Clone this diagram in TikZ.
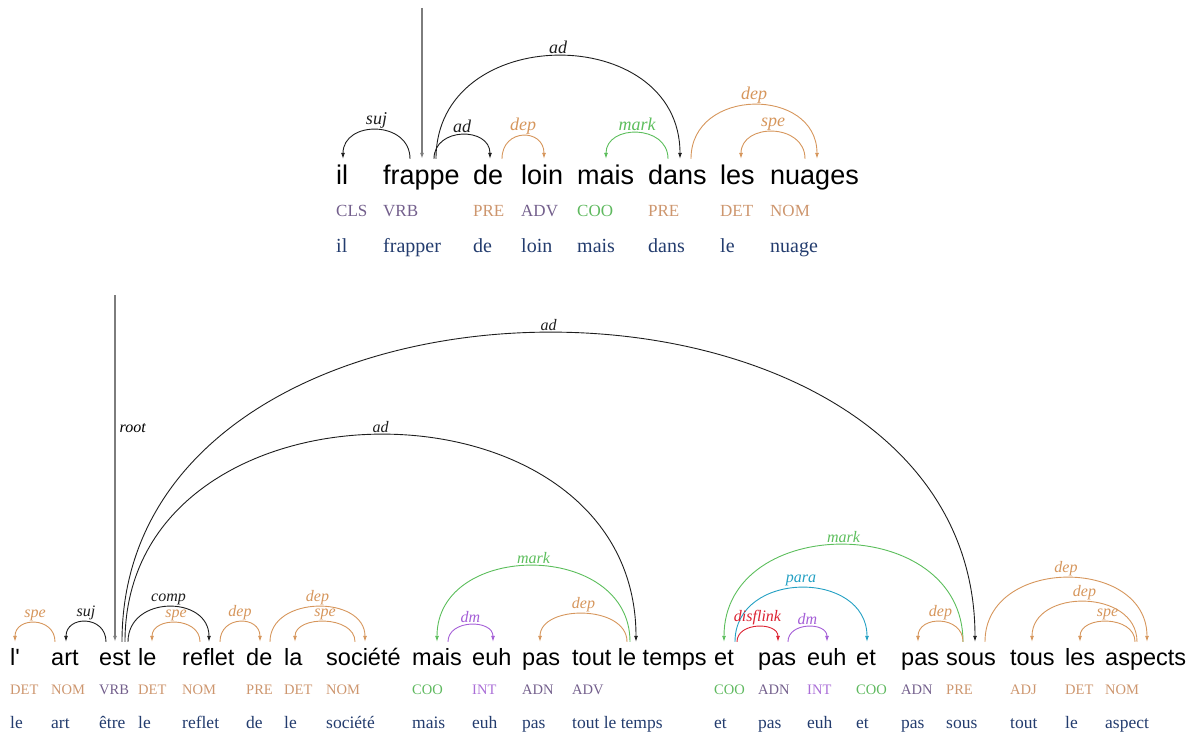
\documentclass[tikz,border=0pt]{standalone}
\usepackage{fontspec}
\setmainfont{Liberation Serif}
\setsansfont{Liberation Sans}
\usepackage{xcolor}
\usepackage{tikz}
\usetikzlibrary{arrows.meta}
\definecolor{arcblk}{RGB}{30,30,30}
\definecolor{deporg}{RGB}{214,150,92}
\definecolor{mrkgrn}{RGB}{92,190,92}
\definecolor{dmpur}{RGB}{165,95,215}
\definecolor{parcyan}{RGB}{35,160,195}
\definecolor{lnkred}{RGB}{220,35,50}
\definecolor{rootgr}{RGB}{125,125,125}
\definecolor{tagorg}{RGB}{205,150,110}
\definecolor{taggrn}{RGB}{95,185,95}
\definecolor{tagpur}{RGB}{170,110,215}
\definecolor{taggry}{RGB}{115,95,140}
\definecolor{lemblu}{RGB}{35,60,110}
\tikzset{
  wtop/.style={anchor=base west, inner sep=0pt, text height=26pt, text depth=6pt,
    font=\sffamily\fontsize{27}{30}\selectfont},
  wbot/.style={anchor=base west, inner sep=0pt, text height=23pt, text depth=5pt,
    font=\sffamily\fontsize{23.5}{26}\selectfont},
  tagtop/.style={anchor=base west, inner sep=0pt, font=\fontsize{17}{20}\selectfont},
  tagbot/.style={anchor=base west, inner sep=0pt, font=\fontsize{14.5}{17}\selectfont},
  lemtop/.style={anchor=base west, inner sep=0pt, text=lemblu, font=\fontsize{20}{24}\selectfont},
  lembot/.style={anchor=base west, inner sep=0pt, text=lemblu, font=\fontsize{17.5}{21}\selectfont},
  deparc/.style={-{Latex[length=6pt,width=4pt]}, line width=0.9pt},
  toplab/.style={anchor=south, inner sep=1.5pt, font=\itshape\fontsize{18}{20}\selectfont},
  botlab/.style={anchor=south, inner sep=1.5pt, font=\itshape\fontsize{16}{18}\selectfont},
  rootln/.style={draw=rootgr, line width=1.6pt, -{Latex[length=6pt,width=4pt]}}
}

\begin{document}
\begin{tikzpicture}[x=1pt,y=1pt]
  \useasboundingbox (0,0) rectangle (1195,-733);
  \foreach \x/\w/\t/\c/\l [count=\i] in {336/il/CLS/taggry/il, 383/frappe/VRB/taggry/frapper,
      473/de/PRE/tagorg/de, 521/loin/ADV/taggry/loin, 577/mais/COO/taggrn/mais,
      648/dans/PRE/tagorg/dans, 720/les/DET/tagorg/le, 770/nuages/NOM/tagorg/nuage} {
    \node[wtop] (a\i) at (\x,-185) {\w};
    \node[tagtop, text=\c] (at\i) at (\x,-217) {\t};
    \node[lemtop] (al\i) at (\x,-252) {\l};
  }
  \coordinate (atop) at (422,-8);
  \draw[rootln] (atop) -- ([xshift=39pt]a2.north west);
  \foreach \s/\p/\d/\q/\h/\lab/\c in {a2/27/a1/7/29/suj/arcblk, a2/51/a3/17/24/ad/arcblk,
      a2/53/a6/32/103/ad/arcblk, a3/29/a4/23/23/dep/deporg, a6/20/a5/29/26/mark/mrkgrn,
      a6/43/a8/47/54/dep/deporg, a8/35/a7/21/27/spe/deporg}
    \draw[deparc, draw=\c] ([xshift=\p pt]\s.north west) .. controls +(0,\h*4/3) and +(0,\h*4/3)
      .. ([xshift=\q pt]\d.north west) node[toplab, text=\c, pos=.5] {\lab};

  \foreach \x/\w/\t/\c/\l [count=\i] in {10/l\textquotesingle/DET/tagorg/le, 51/art/NOM/tagorg/art,
      99/est/VRB/taggry/être, 138/le/DET/tagorg/le, 182/reflet/NOM/tagorg/reflet,
      246/de/PRE/tagorg/de, 284/la/DET/tagorg/le, 326/société/NOM/tagorg/société,
      412/mais/COO/taggrn/mais, 472/euh/INT/tagpur/euh, 522/pas/ADN/taggry/pas,
      572/tout le temps/ADV/taggry/tout le temps, 714/et/COO/taggrn/et, 758/pas/ADN/taggry/pas,
      807/euh/INT/tagpur/euh, 856/et/COO/taggrn/et, 901/pas/ADN/taggry/pas,
      946/sous/PRE/tagorg/sous, 1010/tous/ADJ/tagorg/tout, 1065/les/DET/tagorg/le,
      1105/aspects/NOM/tagorg/aspect} {
    \node[wbot] (b\i) at (\x,-665) {\w};
    \node[tagbot, text=\c] (bt\i) at (\x,-694) {\t};
    \node[lembot] (bl\i) at (\x,-728) {\l};
  }
  \coordinate (btop) at (115,-295);
  \draw[rootln] (btop) -- ([xshift=16pt]b3.north west);
  \node[botlab, anchor=west] (rootlab) at (118,-428) {root};
  \foreach \s/\p/\d/\q/\h/\lab/\c in {b2/4/b1/5/19/spe/deporg, b3/7/b2/15/20/suj/arcblk,
      b3/29/b5/27/35/comp/arcblk, b5/18/b4/14/19/spe/deporg, b5/38/b6/14/20/dep/deporg,
      b6/24/b8/39/35/dep/deporg, b8/29/b7/11/20/spe/deporg, b3/26/b12/64/207/ad/arcblk,
      b3/23/b18/29/309/ad/arcblk, b12/58/b9/25/76/mark/mrkgrn, b9/36/b10/21/17/dm/dmpur,
      b12/55/b11/18/28/dep/deporg, b18/17/b13/10/97/mark/mrkgrn, b13/21/b16/11/54/para/parcyan,
      b13/23/b14/20/15/disflink/lnkred, b14/30/b15/20/15/dm/dmpur, b18/17/b17/17/20/dep/deporg,
      b18/39/b21/42/64/dep/deporg, b21/32/b19/22/40/dep/deporg, b21/30/b20/15/20/spe/deporg}
    \draw[deparc, draw=\c] ([xshift=\p pt]\s.north west) .. controls +(0,\h*4/3) and +(0,\h*4/3)
      .. ([xshift=\q pt]\d.north west) node[botlab, text=\c, pos=.5] {\lab};
\end{tikzpicture}
\end{document}
